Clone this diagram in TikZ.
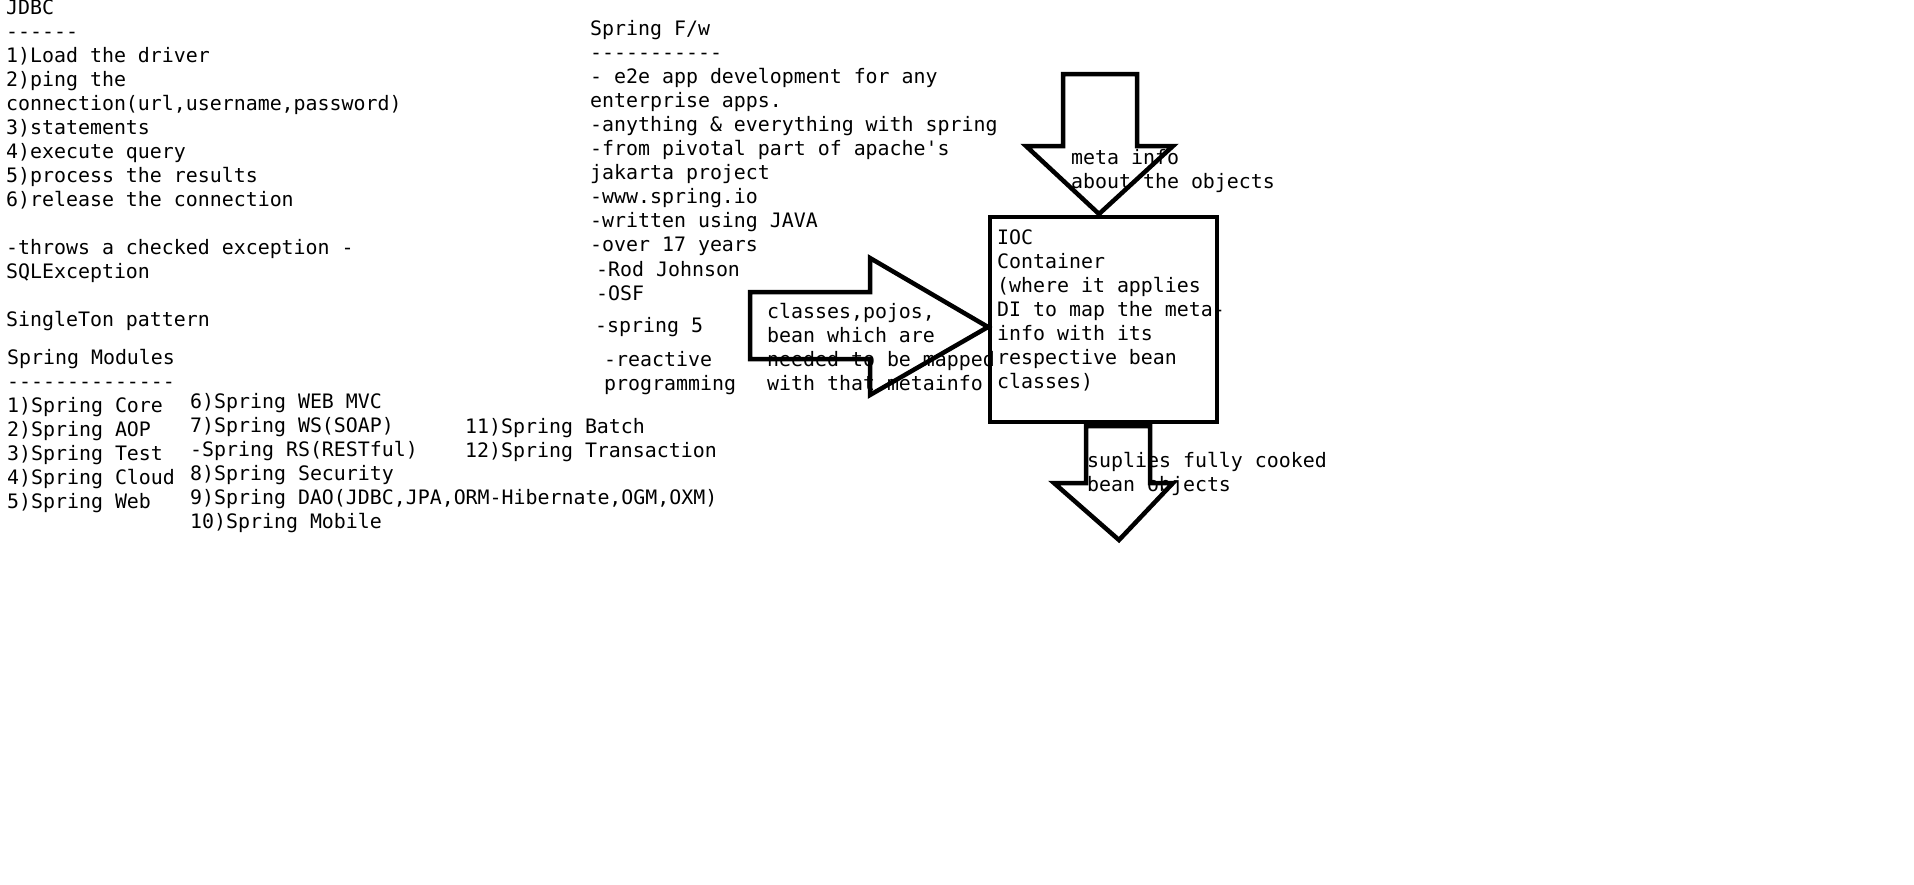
\documentclass[tikz,border=0pt]{standalone}
\usepackage{fontspec}
\setmonofont{DejaVu Sans Mono}
\usepackage{tikz}
\usetikzlibrary{positioning}
\usepackage{xcolor}
\newcommand{\notefont}{\ttfamily\fontsize{19.9pt}{24pt}\selectfont}

\begin{document}
\begin{tikzpicture}[x=1pt, y=-1pt,
  note/.style={font=\notefont, anchor=base west, inner sep=0pt, align=flush left, text width=600pt},
  bigarrow/.style={line width=4.5pt, line join=miter},
  container/.style={draw, line width=4.5pt, minimum width=227pt, minimum height=205pt, inner sep=0pt}]
\useasboundingbox[fill=white] (0,0) rectangle (1914,884);
% left column
\node[note] (jdbc) at (6,14) {JDBC\\------\\1)Load the driver\\2)ping the\\connection(url,username,password)\\3)statements\\4)execute query\\5)process the results\\6)release the connection};
\node[note] (throws) at (6,254) {-throws a checked exception -\\SQLException};
\node[note] (singleton) at (6,326) {SingleTon pattern};
\node[note] (modules) at (7,364) {Spring Modules\\--------------};
\node[note] (modcol1) at (7,412) {1)Spring Core\\2)Spring AOP\\3)Spring Test\\4)Spring Cloud\\5)Spring Web};
\node[note] (modcol2) at (190,408) {6)Spring WEB MVC\\7)Spring WS(SOAP)\\-Spring RS(RESTful)\\8)Spring Security\\9)Spring DAO(JDBC,JPA,ORM-Hibernate,OGM,OXM)\\10)Spring Mobile};
\node[note] (modcol3) at (465,433) {11)Spring Batch\\12)Spring Transaction};
% spring f/w notes
\node[note] (springfw) at (590,35) {Spring F/w\\-----------\\- e2e app development for any\\enterprise apps.\\-anything \& everything with spring\\-from pivotal part of apache's\\jakarta project\\-www.spring.io\\-written using JAVA\\-over 17 years};
\node[note] (rod) at (596,276) {-Rod Johnson\\-OSF};
\node[note] (spring5) at (595,332) {-spring 5};
\node[note] (reactive) at (604,366) {-reactive\\programming};
% ioc container
\node[note] (ioctext) at (997,244) {IOC\\Container\\(where it applies\\DI to map the meta-\\info with its\\respective bean\\classes)};
\node[note] (classes) at (767,318) {classes,pojos,\\bean which are\\needed to be mapped\\with that metainfo};
\node[note] (metainfo) at (1071,164) {meta info\\about the objects};
\node[note] (cooked) at (1087,467) {suplies fully cooked\\bean objects};
\draw[bigarrow] (1063,74) -- (1137,74) -- (1137,146) -- (1173,146) -- (1099,214) -- (1026,146) -- (1063,146) -- cycle;
\draw[bigarrow] (750,292) -- (870,292) -- (870,258) -- (988,327) -- (870,395) -- (870,359) -- (750,359) -- cycle;
\draw[bigarrow] (1086,426) -- (1150,426) -- (1150,483) -- (1173,483) -- (1119,540) -- (1054,483) -- (1086,483) -- cycle;
\node[container] (ioc) at (1103.5,319.5) {};
\end{tikzpicture}
\end{document}
